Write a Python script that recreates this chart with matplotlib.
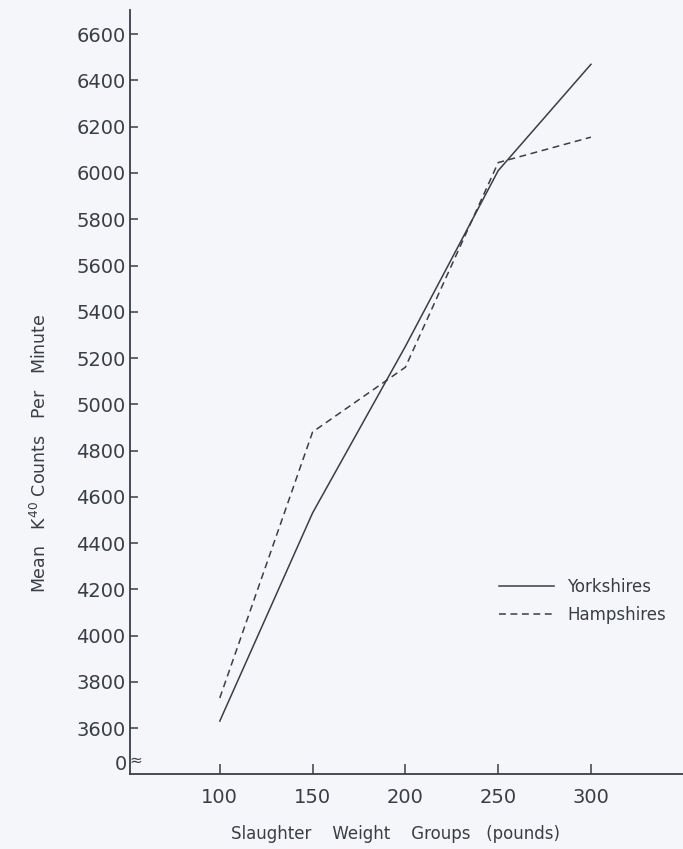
import matplotlib
matplotlib.use("Agg")
import matplotlib.pyplot as plt

# slaughter weight groups (pounds)
weights = [100, 150, 200, 250, 300]
# mean K40 counts per minute
yorkshires = [3630, 4530, 5250, 6010, 6470]
hampshires = [3730, 4880, 5160, 6045, 6155]

yticks = [3600, 3800, 4000, 4200, 4400, 4600, 4800, 5000, 5200, 5400,
          5600, 5800, 6000, 6200, 6400, 6600]
xticks = [100, 150, 200, 250, 300]

ink = '#3a3d44'
bg = '#f4f6fa'

plt.rcParams['font.family'] = ['DejaVu Sans']

fig = plt.figure(figsize=(6.83, 8.49), dpi=100, facecolor=bg)
ax = fig.add_axes([0.19, 0.088, 0.81, 0.9])
ax.set_facecolor(bg)

ax.plot(weights, yorkshires, color=ink, lw=1.1, label='Yorkshires')
ax.plot(weights, hampshires, color=ink, lw=1.1, dashes=(4.5, 3),
        label='Hampshires')

ax.set_xlim(51.5, 349.6)
ax.set_ylim(3400, 6704)

for s in ['top', 'right']:
    ax.spines[s].set_visible(False)
for s in ['left', 'bottom']:
    ax.spines[s].set_color(ink)
    ax.spines[s].set_linewidth(1.3)

# "0" at the axis break
ax.set_yticks([3450] + yticks)
ax.set_yticklabels(['0'] + [str(v) for v in yticks])
ax.text(0.01, (3462 - 3400) / (6704 - 3400), '≈', transform=ax.transAxes,
        ha='center', va='center', fontsize=11, color=ink)

ax.set_xticks(xticks)
ax.set_xticklabels([str(v) for v in xticks])

ax.tick_params(axis='y', direction='in', length=6, width=1.1, colors=ink,
               labelsize=14, pad=3)
ax.tick_params(axis='x', direction='in', length=7, width=1.1, colors=ink,
               labelsize=14, pad=10)
zero = ax.yaxis.get_major_ticks()[0]
zero.tick1line.set_visible(False)
zero.set_pad(2)

ax.set_xlabel('Slaughter    Weight    Groups   (pounds)', fontsize=12,
              color=ink)
ax.xaxis.set_label_coords(0.48, -0.066)
ax.set_ylabel('Mean   K$^{40}$ Counts   Per   Minute', fontsize=12.5,
              color=ink)
ax.yaxis.set_label_coords(-0.145, 0.42)

leg = ax.legend(loc='upper left', bbox_to_anchor=(484 / 683, 1 - 563 / 849),
                bbox_transform=fig.transFigure, frameon=False, fontsize=12,
                handlelength=3.3, handletextpad=0.8, labelspacing=0.6)
for t in leg.get_texts():
    t.set_color(ink)

fig.savefig('out.png', dpi=100, facecolor=bg)
